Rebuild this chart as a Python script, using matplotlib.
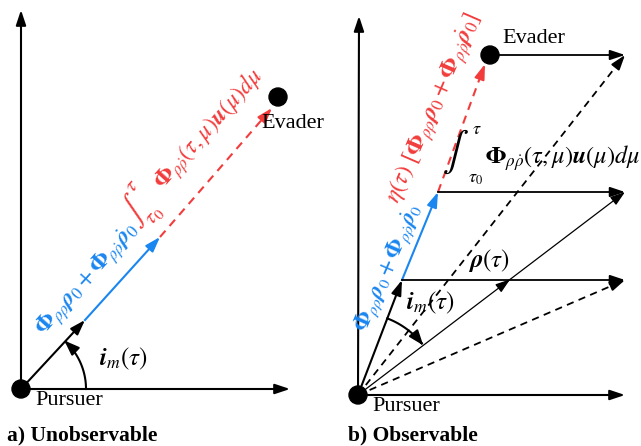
import numpy as np
import matplotlib
matplotlib.use("Agg")
import matplotlib.pyplot as plt

plt.rcParams["font.family"] = ["Liberation Serif", "DejaVu Serif"]
plt.rcParams["mathtext.fontset"] = "stix"

BLUE = "#1a86f0"
RED = "#f23c3c"

# 패널 a (관측 불가) : 픽셀 좌표
a_pursuer = (21, 389)
a_axis_top = (21, 10)
a_axis_right = (290, 389)
a_los = (85, 320)
a_blue_end = (160, 237)
a_red_end = (272, 108)
a_evader = (278, 97)

# 패널 b (관측 가능)
b_pursuer = (358, 395)
b_axis_top = (359, 16)
b_axis_right = (625, 395)
b_los = (402, 280)
b_blue_end = (438, 192)
b_red_end = (485, 64)
b_evader = (490, 55)
b_right_x = 625

fig = plt.figure(figsize=(6.41, 4.46), dpi=100)
ax = fig.add_axes([0, 0, 1, 1])
ax.set_xlim(0, 641)
ax.set_ylim(446, 0)
ax.axis("off")


def arrow(p, q, color="black", lw=1.5, ls="-", head=True):
    p = np.array(p, float)
    q = np.array(q, float)
    d = (q - p) / np.hypot(*(q - p))
    end = q - d * 6 if head else q
    if ls == "--":
        ax.plot([p[0], end[0]], [p[1], end[1]], color=color, lw=lw, dashes=(4, 3))
    else:
        ax.plot([p[0], end[0]], [p[1], end[1]], color=color, lw=lw)
    if head:
        ax.annotate("", xy=q, xytext=q - d * 10,
                    arrowprops=dict(arrowstyle="-|>,head_length=0.75,head_width=0.25",
                                    color=color, lw=lw, shrinkA=0, shrinkB=0,
                                    mutation_scale=12))


def mid_head(p, q, t, color="black", lw=1.0):
    p = np.array(p, float)
    q = np.array(q, float)
    m = p + (q - p) * t
    d = (q - p) / np.hypot(*(q - p))
    ax.annotate("", xy=m, xytext=m - d * 10,
                arrowprops=dict(arrowstyle="-|>,head_length=0.75,head_width=0.25",
                                color=color, lw=lw, shrinkA=0, shrinkB=0,
                                mutation_scale=12))


def arc(c, r, a0, a1, lw=1.5):
    t = np.radians(np.linspace(a0, a1, 60))
    xs = c[0] + r * np.cos(t)
    ys = c[1] - r * np.sin(t)
    ax.plot(xs[:-3], ys[:-3], color="black", lw=lw)
    ax.annotate("", xy=(xs[-1], ys[-1]), xytext=(xs[-6], ys[-6]),
                arrowprops=dict(arrowstyle="-|>,head_length=0.75,head_width=0.28",
                                color="black", lw=lw, shrinkA=0, shrinkB=0,
                                mutation_scale=12))


def ang(p, q):
    return np.degrees(np.arctan2(p[1] - q[1], q[0] - p[0]))


def rtext(xy, s, size, color, rot):
    ax.text(xy[0], xy[1], s, fontsize=size, color=color, rotation=rot,
            ha="center", va="center", rotation_mode="anchor")


blue_tex = r"$\boldsymbol{\Phi}_{\rho\rho}\boldsymbol{\rho}_0+\boldsymbol{\Phi}_{\rho\dot{\rho}}\dot{\boldsymbol{\rho}}_0$"
int_tex = r"$\int_{\tau_0}^{\tau}$"
phi_tex = r"$\boldsymbol{\Phi}_{\rho\dot{\rho}}(\tau,\mu)\boldsymbol{u}(\mu)d\mu$"
eta_tex = r"$\eta(\tau)\ [\boldsymbol{\Phi}_{\rho\rho}\boldsymbol{\rho}_0+\boldsymbol{\Phi}_{\rho\dot{\rho}}\dot{\boldsymbol{\rho}}_0]$"
im_tex = r"$\boldsymbol{i}_m(\tau)$"

# ---- 패널 a
arrow(a_pursuer, a_axis_top)
arrow(a_pursuer, a_axis_right)
arrow(a_pursuer, a_los)
arrow(a_los, a_blue_end, color=BLUE)
arrow(a_blue_end, a_red_end, color=RED, ls="--")
th_a = ang(a_pursuer, a_red_end)
arc(a_pursuer, 65, 0, th_a)
ax.add_patch(plt.Circle(a_pursuer, 9, color="black", zorder=5))
ax.add_patch(plt.Circle(a_evader, 9, color="black", zorder=5))
ax.text(35, 391, "Pursuer", fontsize=16, va="top", ha="left")
ax.text(261, 114, "Evader", fontsize=16, va="top", ha="left")
ax.text(99, 359, im_tex, fontsize=18, va="center", ha="left")
rtext((88, 280), blue_tex, 17, BLUE, th_a)
rtext((140, 208), int_tex, 22, RED, th_a)
rtext((209, 130), phi_tex, 17, RED, th_a)
ax.text(7, 435, "a) Unobservable", fontsize=15.5, fontweight="bold", va="center", ha="left")

# ---- 패널 b
arrow(b_pursuer, b_axis_top)
arrow(b_pursuer, b_axis_right)
arrow(b_pursuer, b_los)
arrow(b_los, b_blue_end, color=BLUE)
arrow(b_blue_end, b_red_end, color=RED, ls="--")
for p in (b_evader, b_blue_end, b_los):
    arrow(p, (b_right_x, p[1]), lw=1.3)
arrow(b_pursuer, (b_right_x, b_evader[1]), ls="--", lw=1.3)
arrow(b_pursuer, (b_right_x, b_los[1]), ls="--", lw=1.3)
arrow(b_pursuer, (b_right_x, b_blue_end[1]), lw=0.9)
mid_head(b_pursuer, (b_right_x, b_blue_end[1]), 0.57, lw=0.9)
arc(b_pursuer, 82, ang(b_pursuer, b_los), ang(b_pursuer, (b_right_x, b_blue_end[1])))
ax.add_patch(plt.Circle(b_pursuer, 9, color="black", zorder=5))
ax.add_patch(plt.Circle(b_evader, 9, color="black", zorder=5))
ax.text(372, 397, "Pursuer", fontsize=16, va="top", ha="left")
ax.text(502, 29, "Evader", fontsize=16, va="top", ha="left")
ax.text(406, 303, im_tex, fontsize=18, va="center", ha="left")
ax.text(468, 261, r"$\boldsymbol{\rho}(\tau)$", fontsize=18, va="center", ha="left")
th_b = ang(b_pursuer, b_blue_end)
rtext((389, 268), blue_tex, 16.5, BLUE, th_b - 2)
rtext((435, 108), eta_tex, 17.5, RED, th_b - 2)
ax.text(442, 152, r"$\int$", fontsize=28, va="center", ha="left")
ax.text(472, 129, r"$\tau$", fontsize=13, va="center", ha="left")
ax.text(468, 178, r"$\tau_0$", fontsize=13, va="center", ha="left")
ax.text(485, 158, phi_tex, fontsize=17.5, va="center", ha="left")
ax.text(348, 435, "b) Observable", fontsize=15.5, fontweight="bold", va="center", ha="left")

fig.savefig("out.png", dpi=100)
